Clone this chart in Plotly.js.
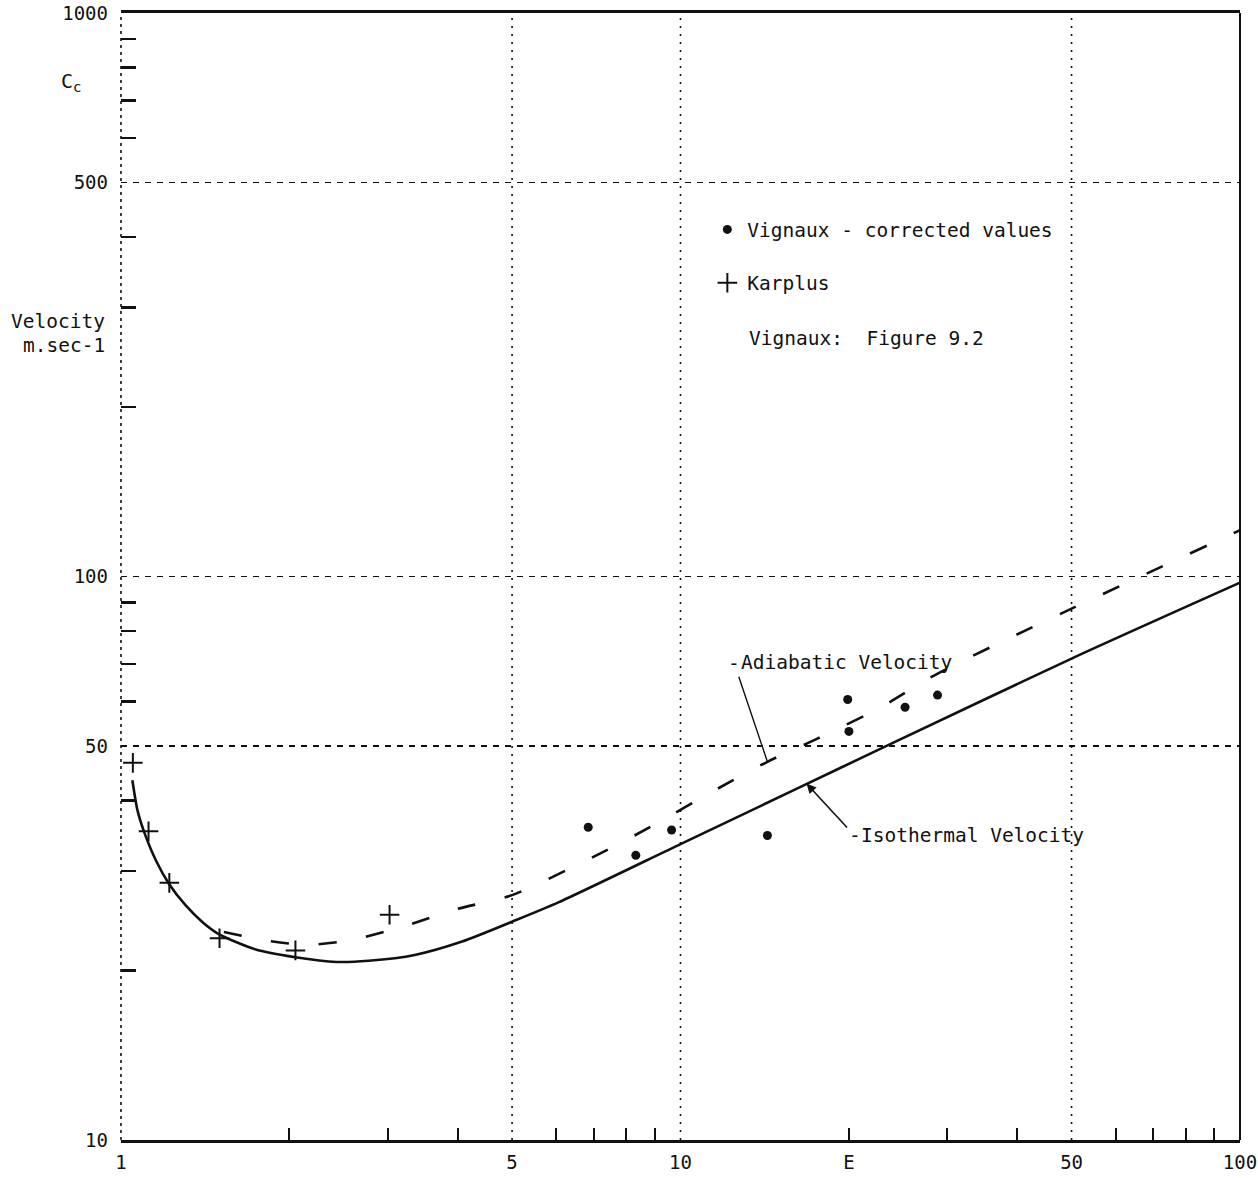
<!DOCTYPE html>
<html>
<head>
<meta charset="utf-8">
<script src="https://cdn.plot.ly/plotly-3.0.1.min.js"></script>
<style>
  html, body { margin: 0; padding: 0; background: #fff; }
  #chart { width: 1258px; height: 1178px; }
</style>
</head>
<body>
<div id="chart"></div>
<script>
// ---- data ----
const karplusX = [1.05, 1.12, 1.22, 1.50, 2.05, 3.02];
const karplusY = [46.7, 35.3, 28.6, 22.8, 21.7, 25.1];

const vignauxX = [6.84, 8.32, 9.64, 14.3, 19.9, 20.0, 25.2, 28.8];
const vignauxY = [35.9, 32.0, 35.5, 34.7, 60.5, 53.1, 58.6, 61.6];

const isoX = [1.048, 1.07, 1.099, 1.157, 1.218, 1.304, 1.402, 1.495, 1.736, 2.05, 2.43, 2.77, 3.35, 4.07, 5.0, 6.05, 10.0, 15.8, 23.3, 50, 100];
const isoY = [43.5, 38.5, 35.3, 31.2, 28.5, 26.1, 24.3, 23.2, 21.8, 21.1, 20.7, 20.8, 21.3, 22.5, 24.4, 26.4, 33.5, 41.6, 50, 71.5, 97.5];

const adiaX = [1.527, 1.813, 2.14, 2.56, 3.18, 3.99, 5.0, 7.25, 9.09, 11.34, 14.3, 17.6, 22.8, 27.9, 33.1, 39.3, 50, 100];
const adiaY = [23.4, 22.6, 22.2, 22.6, 23.9, 25.7, 27.2, 32.4, 36.5, 41.4, 46.9, 51.6, 58.6, 66.1, 72.1, 78.3, 87.7, 120.8];

// axis ticks / labels
const xTickVals = [1, 5, 10, 20, 50, 100];
const xTickText = ['1', '5', '10', 'E', '50', '100'];
const xMinorVals = [2, 3, 4, 6, 7, 8, 9, 20, 30, 40, 60, 70, 80, 90];
const xGrid = [5, 10, 50];
const yTickVals = [10, 50, 100, 500, 1000];
const yTickText = ['10', '50', '100', '500', '1000'];
const yMinorVals = [20, 30, 40, 60, 70, 80, 90, 200, 300, 400, 600, 700, 800, 900];

// points on the curves that the label leaders touch
const adiaLabelPoint = [14.3, 46.9];
const isoLabelPoint = [16.8, 42.9];

const FONT = 'DejaVu Sans Mono, Liberation Mono, monospace';
const INK = '#111';

const traces = [
  {
    x: isoX, y: isoY, type: 'scatter', mode: 'lines', name: 'Isothermal Velocity',
    line: { color: INK, width: 2.6, shape: 'spline', smoothing: 0.7 },
    showlegend: false, hoverinfo: 'skip'
  },
  {
    x: adiaX, y: adiaY, type: 'scatter', mode: 'lines', name: 'Adiabatic Velocity',
    line: { color: INK, width: 2.6, dash: '18px,30px', shape: 'spline', smoothing: 0.7 },
    showlegend: false, hoverinfo: 'skip'
  },
  {
    x: vignauxX, y: vignauxY, type: 'scatter', mode: 'markers',
    name: 'Vignaux - corrected values', legendgroup: 'a',
    marker: { symbol: 'circle', size: 9, color: INK }
  },
  {
    x: karplusX, y: karplusY, type: 'scatter', mode: 'markers',
    name: 'Karplus', legendgroup: 'b',
    marker: { symbol: 'cross-thin', size: 14, color: INK, line: { color: INK, width: 2 } }
  }
];

const shapes = xGrid.map(v => ({
  type: 'line', xref: 'x', yref: 'paper',
  x0: v, x1: v, y0: 0, y1: 1,
  line: { color: INK, width: 1.6, dash: '2px,6px' }, layer: 'below'
}));
// left border (dotted) and right border (solid)
shapes.push({ type: 'line', xref: 'paper', yref: 'paper', x0: 0, x1: 0, y0: 0, y1: 1,
  line: { color: INK, width: 1.6, dash: '3px,4px' } });
shapes.push({ type: 'line', xref: 'paper', yref: 'paper', x0: 1, x1: 1, y0: 0, y1: 1,
  line: { color: INK, width: 2 } });

const annFont = { family: FONT, size: 19.5, color: INK };
const annotations = [
  { xref: 'paper', yref: 'paper', x: -0.0447, y: 0.9388, xanchor: 'center', yanchor: 'middle',
    text: 'C<sub>c</sub>', showarrow: false, font: { family: FONT, size: 20, color: INK } },
  { xref: 'paper', yref: 'paper', x: -0.0125, y: 0.7267, xanchor: 'right', yanchor: 'middle',
    text: 'Velocity', showarrow: false, font: annFont },
  { xref: 'paper', yref: 'paper', x: -0.0125, y: 0.7054, xanchor: 'right', yanchor: 'middle',
    text: 'm.sec-1', showarrow: false, font: annFont },
  { xref: 'paper', yref: 'paper', x: 0.5594, y: 0.7116, xanchor: 'left', yanchor: 'middle',
    text: 'Vignaux:\u00a0 Figure 9.2', showarrow: false, font: annFont },
  { xref: 'paper', yref: 'paper', x: 0.5523, y: 0.4241, xanchor: 'left', yanchor: 'middle',
    text: 'Adiabatic Velocity', showarrow: false, font: annFont },
  { xref: 'paper', yref: 'paper', x: 0.6596, y: 0.2706, xanchor: 'left', yanchor: 'middle',
    text: 'Isothermal Velocity', showarrow: false, font: annFont },
  // leader dashes with their lines to the curves
  { xref: 'x', yref: 'y', x: Math.log10(adiaLabelPoint[0]), y: Math.log10(adiaLabelPoint[1]),
    text: '-', font: annFont, showarrow: true, arrowhead: 0, arrowwidth: 1.4, arrowcolor: INK,
    ax: -33, ay: -98, standoff: 0 },
  { xref: 'x', yref: 'y', x: Math.log10(isoLabelPoint[0]), y: Math.log10(isoLabelPoint[1]),
    text: '-', font: annFont, showarrow: true, arrowhead: 2, arrowsize: 1.2, arrowwidth: 1.6, arrowcolor: INK,
    ax: 48, ay: 52, standoff: 0 }
];

const layout = {
  width: 1258, height: 1178,
  margin: { l: 121, r: 18, t: 13, b: 38 },
  paper_bgcolor: '#fff', plot_bgcolor: '#fff',
  font: { family: FONT, size: 19, color: INK },
  showlegend: true,
  legend: {
    x: 0.524, y: 0.825, xanchor: 'left', yanchor: 'top',
    font: { family: FONT, size: 19.5, color: INK },
    bgcolor: 'rgba(0,0,0,0)', traceorder: 'grouped', tracegroupgap: 25, itemwidth: 30
  },
  xaxis: {
    type: 'log', range: [0, 2], showgrid: false, zeroline: false,
    tickmode: 'array', tickvals: xTickVals, ticktext: xTickText,
    ticks: '', ticklabelstandoff: 3,
    tickfont: { family: FONT, size: 19, color: INK },
    showline: true, mirror: true, linecolor: INK, linewidth: 3,
    minor: { tickmode: 'array', tickvals: xMinorVals, ticks: 'inside', ticklen: 12, tickwidth: 2, tickcolor: INK, showgrid: false }
  },
  yaxis: {
    type: 'log', range: [1, 3], zeroline: false,
    tickmode: 'array', tickvals: yTickVals, ticktext: yTickText,
    ticks: '', ticklabelstandoff: 12,
    showgrid: true, gridcolor: INK, gridwidth: 1.6, griddash: '6px,6px',
    tickfont: { family: FONT, size: 19, color: INK },
    showline: false,
    minor: { tickmode: 'array', tickvals: yMinorVals, ticks: 'inside', ticklen: 15, tickwidth: 2.5, tickcolor: INK, showgrid: false }
  },
  shapes: shapes,
  annotations: annotations
};

Plotly.newPlot('chart', traces, layout, { displayModeBar: false, staticPlot: true });
</script>
</body>
</html>
